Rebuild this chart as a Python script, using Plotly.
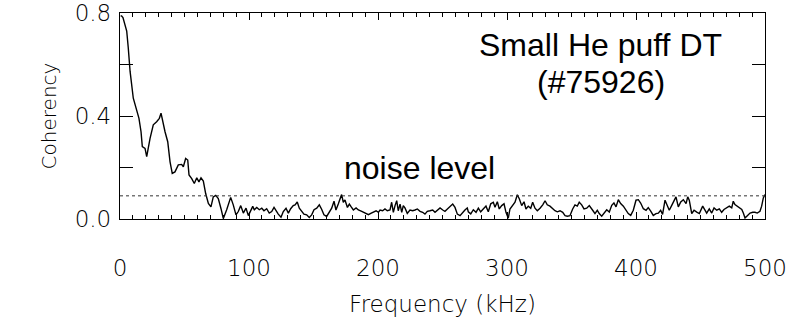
import plotly.graph_objects as go

# Frequency (kHz) and coherency
freq = [0.5, 1.3, 2.3, 5.2, 6.4, 7.8, 10.3, 12.9, 14.7, 16.3, 17.3, 19.4, 20.7, 23.3, 25.8, 28.4, 30.5, 31.8,
        33.6, 34.9, 37.0, 38.8, 40.5, 42.6, 45.2, 47.8, 49.1, 50.9, 52.5, 53.5, 55.6, 57.6, 59.5, 61.2, 62.8,
        64.6, 66.4, 68.5, 70.5, 72.3, 74.2, 76.2, 78.3, 80.1,
        82.7, 84.7, 85.8, 87.8, 89.9, 91.7, 93.6, 95.6, 97.7, 99.5, 100.8, 102.9, 104.1, 106.0, 108.0, 109.9,
        111.6, 113.7, 115.7, 117.6, 119.4, 120.9, 122.7, 124.8, 126.6, 128.7, 130.5, 132.3, 134.3, 135.7,
        137.4, 139.0, 140.8, 142.6, 144.7, 146.7, 148.6, 150.4, 152.5, 154.5, 156.3, 158.1, 160.2, 162.2, 164.1,
        165.9, 167.4, 169.2, 170.5, 171.8, 173.1, 174.4, 176.3, 177.8, 179.1, 180.9, 183.0, 184.8, 187.4, 190.0,
        192.6, 194.4, 196.4, 198.5, 200.3, 201.6, 203.6, 205.4, 207.2, 209.3, 210.6, 211.9, 213.2, 214.5, 215.7,
        217.1, 218.4, 219.6, 220.9, 222.7, 224.8, 226.9, 228.7, 230.5, 232.6, 234.6, 236.4, 238.2, 240.3, 242.4,
        244.2, 246.0, 248.1, 250.2, 251.9, 253.8, 255.8, 257.9, 259.7, 261.5, 263.6, 265.6, 267.4, 269.2,
        270.0, 271.9, 273.9, 276.0, 277.8, 279.6, 281.6, 283.7, 285.5, 287.4, 289.4, 290.7, 292.5, 294.0, 295.9,
        297.7, 299.2, 301.0, 302.3, 304.4, 306.2, 308.0, 309.6, 311.4, 313.2, 314.7, 316.5, 318.4, 319.9, 321.7,
        323.5, 325.6, 327.7, 329.5, 331.2, 333.3, 335.4, 337.2, 339.0, 341.1, 343.2, 345.0, 346.8, 348.8, 350.9,
        352.7, 354.5, 356.0, 357.9, 359.7, 361.8, 363.8,
        366.4, 368.2, 370.0, 371.5, 373.4, 375.2, 377.3, 379.3, 381.2, 382.9, 384.5, 386.3, 388.1, 390.2, 392.2,
        394.0, 395.9, 397.9, 400.0, 401.8, 403.6, 405.7, 407.8, 409.5, 411.4, 413.4, 415.5, 417.3, 419.1, 420.6,
        422.5, 424.3, 425.8, 427.7, 429.5, 431.0, 432.8, 434.7, 436.7, 438.8, 440.1, 441.3, 443.2, 445.0, 447.1,
        449.1, 451.7, 453.5, 454.8, 456.8, 458.7, 460.5, 462.6, 464.6, 466.4, 468.2, 470.3, 472.3, 474.2, 475.4,
        476.7, 478.1, 480.1, 482.0, 483.2, 484.5, 486.3, 488.4, 490.5, 492.2, 494.0, 496.1, 497.4, 498.7, 500.0]

coherency = [0.790, 0.788, 0.782, 0.730, 0.665, 0.574, 0.469, 0.425, 0.391, 0.339, 0.281, 0.274, 0.242, 0.313,
             0.366, 0.378, 0.391, 0.411, 0.366, 0.339, 0.300, 0.222, 0.177, 0.183, 0.210, 0.212, 0.203, 0.235,
             0.229, 0.171, 0.157, 0.138, 0.160, 0.144, 0.160, 0.147, 0.099, 0.060, 0.047, 0.086, 0.092, 0.079,
             0.040, 0.002,
             0.036, 0.068, 0.084, 0.055, 0.016, 0.029, 0.052, 0.023, 0.042, 0.013, 0.029, 0.049, 0.036, 0.045,
             0.036, 0.042, 0.032, 0.040, 0.023, 0.029, 0.045, 0.032, 0.019, 0.007, 0.029, 0.042, 0.023, 0.040,
             0.052, 0.055, 0.066, 0.042, 0.032, 0.019, 0.016, 0.006, 0.016, 0.036, 0.042, 0.055, 0.038, 0.016,
             0.010, 0.029, 0.042,
             0.069, 0.035, 0.058, 0.078, 0.095, 0.065, 0.074, 0.045, 0.058, 0.048, 0.035, 0.043, 0.035, 0.030,
             0.022, 0.017, 0.022, 0.026, 0.032, 0.026, 0.035, 0.032, 0.039, 0.032, 0.035, 0.065, 0.026, 0.052,
             0.071, 0.032, 0.058, 0.026, 0.052, 0.043, 0.022, 0.035, 0.032, 0.035, 0.039, 0.030, 0.026, 0.019,
             0.030, 0.032, 0.035, 0.026, 0.035, 0.043, 0.035, 0.030, 0.039, 0.048, 0.058, 0.045, 0.019, 0.013,
             0.026, 0.035, 0.043,
             0.028, 0.020, 0.036, 0.026, 0.042, 0.028, 0.039, 0.050, 0.028, 0.059, 0.065, 0.046, 0.067, 0.039,
             0.052, 0.059, 0.026, 0.003, 0.039, 0.052, 0.065, 0.094, 0.078, 0.052, 0.067, 0.039, 0.050, 0.042,
             0.065, 0.042, 0.032, 0.042, 0.055, 0.071, 0.055, 0.050, 0.039, 0.032, 0.028, 0.032, 0.026, 0.013,
             0.011, 0.013, 0.039, 0.055, 0.050, 0.065, 0.055, 0.039, 0.042, 0.052,
             0.034, 0.021, 0.034, 0.021, 0.011, 0.023, 0.036, 0.027, 0.053, 0.062, 0.047, 0.075, 0.060, 0.050,
             0.036, 0.021, 0.014, 0.034, 0.073, 0.075, 0.062, 0.040, 0.034, 0.044, 0.031, 0.014, 0.021, 0.023,
             0.034, 0.018, 0.073, 0.053, 0.034, 0.053, 0.073, 0.086, 0.047, 0.066, 0.075, 0.060, 0.086, 0.073,
             0.021, 0.034, 0.027, 0.021,
             0.050, 0.037, 0.023, 0.039, 0.023, 0.043, 0.034, 0.039, 0.026, 0.037, 0.043, 0.050, 0.043, 0.069,
             0.056, 0.050, 0.043, 0.037, 0.023, 0.004, 0.013, 0.023, 0.026, 0.026, 0.023, 0.030, 0.050, 0.082,
             0.095]

noise_level = 0.09
x_range = [0, 500]
y_range = [0, 0.8]
x_tickvals = [0, 100, 200, 300, 400, 500]
y_tickvals = [0.0, 0.2, 0.4, 0.6, 0.8]
y_ticktext = ["0.0", "", "0.4", "", "0.8"]

tick_font = dict(family="DejaVu Sans", size=23, color="#000000", weight=300)
xtitle_font = dict(family="DejaVu Sans", size=23, color="#000000", weight=300)
ytitle_font = dict(family="DejaVu Sans", size=20, color="#000000", weight=300)
ann_font = dict(family="Liberation Sans, Arial, sans-serif", size=32, color="#000000")

fig = go.Figure()
fig.add_trace(go.Scatter(x=freq, y=coherency, mode="lines",
                         line=dict(color="#000000", width=1.4), showlegend=False))
fig.add_hline(y=noise_level, line=dict(color="#333333", width=1, dash="dot"))

fig.add_annotation(x=232, y=0.20, xref="x", yref="y", text="noise level", showarrow=False,
                   font=ann_font, xanchor="center", yanchor="middle")
fig.add_annotation(x=0.745, y=0.845, xref="paper", yref="paper", text="Small He puff DT",
                   showarrow=False, font=ann_font, xanchor="center", yanchor="middle")
fig.add_annotation(x=0.745, y=0.665, xref="paper", yref="paper", text="(#75926)",
                   showarrow=False, font=ann_font, xanchor="center", yanchor="middle")

fig.update_xaxes(range=x_range, tickvals=x_tickvals, ticks="inside", ticklen=7, tickwidth=1,
                 tickcolor="#000000", showline=True, linecolor="#000000", linewidth=1.3,
                 mirror="allticks", showgrid=False, zeroline=False, tickfont=tick_font,
                 ticklabelstandoff=28, automargin=False,
                 minor=dict(dtick=10, ticks="inside", ticklen=4, tickcolor="#000000", showgrid=False),
                 title=dict(text="Frequency (kHz)", font=xtitle_font, standoff=16))
fig.update_yaxes(range=y_range, tickvals=y_tickvals, ticktext=y_ticktext, ticks="inside", ticklen=13,
                 tickwidth=1, tickcolor="#000000", showline=True, linecolor="#000000", linewidth=1.3,
                 mirror="allticks", showgrid=False, zeroline=False, tickfont=tick_font,
                 ticklabelstandoff=3, automargin=False,
                 title=dict(text="Coherency", font=ytitle_font, standoff=12))

fig.update_layout(width=794, height=325, margin=dict(l=120, r=29, t=13, b=106),
                  plot_bgcolor="white", paper_bgcolor="white", showlegend=False)

fig.write_html("out.html")
